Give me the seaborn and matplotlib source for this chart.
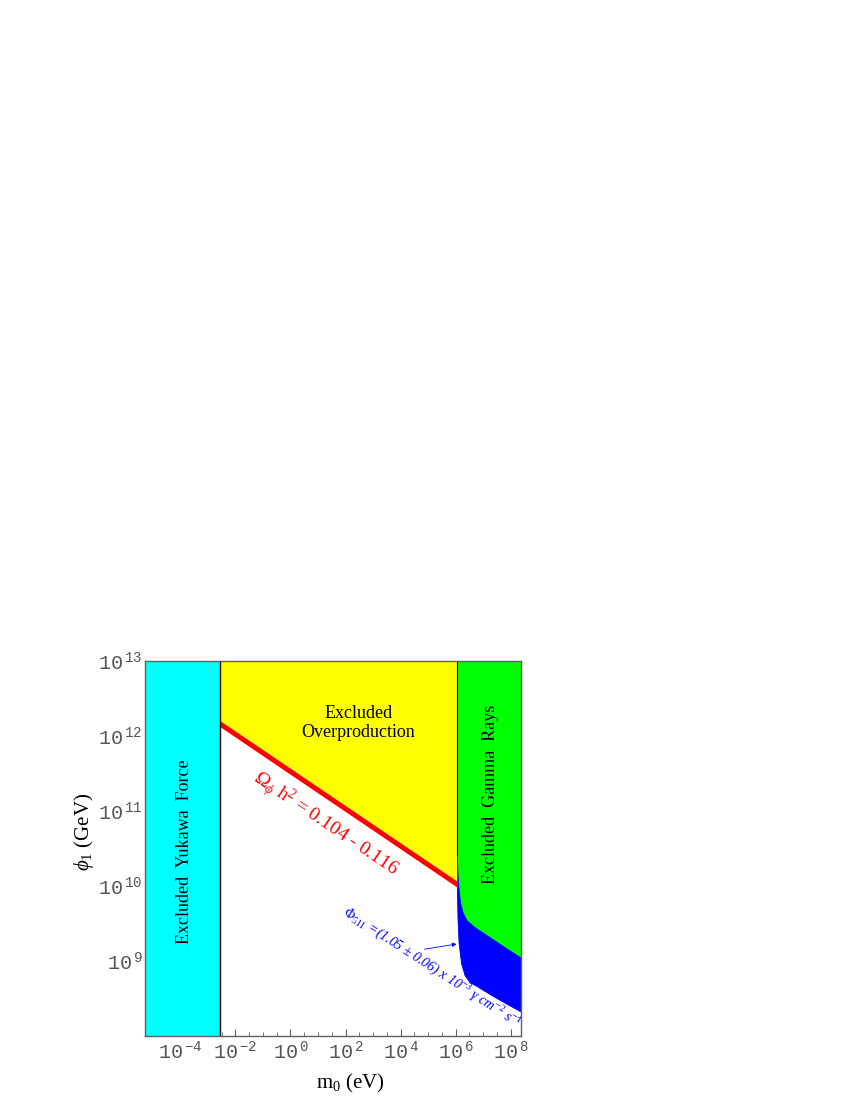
import numpy as np
import pandas as pd
import matplotlib
matplotlib.use('Agg')
import matplotlib.pyplot as plt
import seaborn as sns
from matplotlib.ticker import FixedLocator, FixedFormatter, NullFormatter

# --- plot window, in log10 units ---
x_lim_exp = [-5.28, 8.374]
y_lim_exp = [8.0, 13.0]

# --- excluded regions (log10 m_0 / eV) ---
yukawa_edge_exp = -2.56
gamma_edge_exp = 6.06

# --- relic density band  Omega h^2 = 0.104 - 0.116 ---
relic_m_exp = [-2.56, 6.06]
relic_hi_exp = [12.20, 10.06]
relic_lo_exp = [12.12, 9.98]

# --- 511 keV flux band, upper and lower edge ---
flux_up_m_exp = [6.06, 6.085, 6.122, 6.176, 6.267, 6.412, 6.703, 7.248, 7.793, 8.374]
flux_up_phi_exp = [10.414, 10.148, 9.949, 9.775, 9.642, 9.535, 9.443, 9.310, 9.177, 9.040]
flux_lo_m_exp = [6.06, 6.085, 6.122, 6.213, 6.340, 6.521, 6.776, 7.430, 8.374]
flux_lo_phi_exp = [10.0, 9.549, 9.243, 8.964, 8.805, 8.712, 8.659, 8.513, 8.319]

# --- ticks ---
x_tick_exp = [-4, -2, 0, 2, 4, 6, 8]
y_tick_exp = [9, 10, 11, 12, 13]

CYAN = '#00FFFF'
YELLOW = '#FFFF00'
GREEN = '#00FF00'
BLUE = '#0000FF'
RED = '#FF0000'
GRAY = '#606060'

sns.set_theme(style='white')
plt.rcParams['font.family'] = ['Liberation Serif', 'DejaVu Serif']
plt.rcParams['mathtext.fontset'] = 'custom'
plt.rcParams['mathtext.rm'] = 'Liberation Serif'
plt.rcParams['mathtext.it'] = 'Liberation Serif:italic'
plt.rcParams['mathtext.bf'] = 'Liberation Serif:bold'
plt.rcParams['mathtext.tt'] = 'Liberation Mono'
plt.rcParams['mathtext.fallback'] = 'stix'

p = lambda v: 10.0 ** np.asarray(v, dtype=float)

fig = plt.figure(figsize=(8.5, 11), dpi=100)
ax = fig.add_axes([0.1706, 0.0582, 0.4424, 0.3413])
ax.set_xscale('log')
ax.set_yscale('log')
xmin, xmax = p(x_lim_exp)
ymin, ymax = p(y_lim_exp)

# regions
ax.axvspan(xmin, p(yukawa_edge_exp), color=CYAN, lw=0, zorder=1)
ax.fill_between(p(relic_m_exp), p(relic_hi_exp), ymax, color=YELLOW, lw=0, zorder=1)
ax.fill_between(p(relic_m_exp), p(relic_lo_exp), p(relic_hi_exp), color=RED, lw=0, zorder=3)

# green: everything above the upper edge of the flux band
green_x = np.concatenate([[p(gamma_edge_exp)], p(flux_up_m_exp), [xmax]])
green_y = np.concatenate([[ymax], p(flux_up_phi_exp), [ymax]])
ax.fill(green_x, green_y, color=GREEN, lw=0, zorder=1)

band_x = np.concatenate([p(flux_up_m_exp), p(flux_lo_m_exp)[::-1]])
band_y = np.concatenate([p(flux_up_phi_exp), p(flux_lo_phi_exp)[::-1]])
ax.fill(band_x, band_y, color=BLUE, lw=0, zorder=2)

df_up = pd.DataFrame({'m': p(flux_up_m_exp), 'phi': p(flux_up_phi_exp)})
df_lo = pd.DataFrame({'m': p(flux_lo_m_exp), 'phi': p(flux_lo_phi_exp)})
sns.lineplot(data=df_up, x='m', y='phi', color=BLUE, lw=0.6, sort=False, ax=ax, zorder=2)
sns.lineplot(data=df_lo, x='m', y='phi', color=BLUE, lw=0.6, sort=False, ax=ax, zorder=2)

ax.plot([p(yukawa_edge_exp)] * 2, [ymin, ymax], color='black', lw=1.0, zorder=4)
ax.plot([p(gamma_edge_exp)] * 2, [p(flux_up_phi_exp[0]), ymax], color='#000033', lw=0.8, zorder=4)

ax.set_xlim(xmin, xmax)
ax.set_ylim(ymin, ymax)

# texts
ax.text(p(-3.83), p(10.45), 'Excluded  Yukawa  Force', rotation=90, ha='center', va='center',
        fontsize=13, color='black', zorder=5)
ax.text(p(2.47), p(12.17), 'Excluded\nOverproduction', ha='center', va='center',
        fontsize=13, color='black', linespacing=1.1, zorder=5)
ax.text(p(7.25), p(11.22), 'Excluded  Gamma  Rays', rotation=90, ha='center', va='center',
        fontsize=13, color='black', zorder=5)
ax.text(p(1.26), p(10.82), r'$\Omega_{\phi}$ h$^{2}$ = 0.104 - 0.116', rotation=-34,
        rotation_mode='anchor', ha='center', va='center', fontsize=14, color=RED, zorder=5)
ax.text(p(5.10), p(8.90), r'$\Phi_{511}$ =(1.05 $\pm$ 0.06) x 10$^{-3}$ $\gamma$ cm$^{-2}$ s$^{-1}$',
        rotation=-33, rotation_mode='anchor', ha='center', va='center', fontsize=10,
        style='italic', color=BLUE, zorder=5)
ax.annotate('', xy=(p(6.13), p(9.23)), xytext=(p(4.77), p(9.15)),
            arrowprops=dict(arrowstyle='-|>', color=BLUE, lw=0.6, mutation_scale=6), zorder=5)

# axes / ticks
ax.xaxis.set_major_locator(FixedLocator(p(x_tick_exp)))
ax.xaxis.set_major_formatter(FixedFormatter([r'$\mathtt{10}^{\,\mathtt{%d}}$' % e for e in x_tick_exp]))
ax.xaxis.set_minor_locator(FixedLocator(p(np.arange(-5.0, 8.5, 0.5))))
ax.xaxis.set_minor_formatter(NullFormatter())
ax.yaxis.set_major_locator(FixedLocator(p(y_tick_exp)))
ax.yaxis.set_major_formatter(FixedFormatter([r'$\mathtt{10}^{\,\mathtt{%d}}$' % e for e in y_tick_exp]))
ax.yaxis.set_minor_locator(FixedLocator(p(np.arange(8.0, 13.01, 0.25))))
ax.yaxis.set_minor_formatter(NullFormatter())

ax.tick_params(which='both', direction='in', top=True, right=True, bottom=True, left=True,
               color=GRAY, labelcolor='#555555', labelsize=14.5)
ax.tick_params(axis='x', pad=4)
ax.tick_params(axis='y', pad=2)
ax.tick_params(which='major', length=5, width=0.8)
ax.tick_params(which='minor', length=3, width=0.6)
for s in ax.spines.values():
    s.set_color(GRAY)
    s.set_linewidth(1.0)
    s.set_zorder(6)

ax.set_xlabel(r'm$_{0}$ (eV)', fontsize=15, color='black')
ax.xaxis.set_label_coords(0.545, -0.095)
ax.set_ylabel(r'$\phi_{1}$ (GeV)', fontsize=15, color='black')
ax.yaxis.set_label_coords(-0.13, 0.543)

fig.savefig('out.png', dpi=100)
